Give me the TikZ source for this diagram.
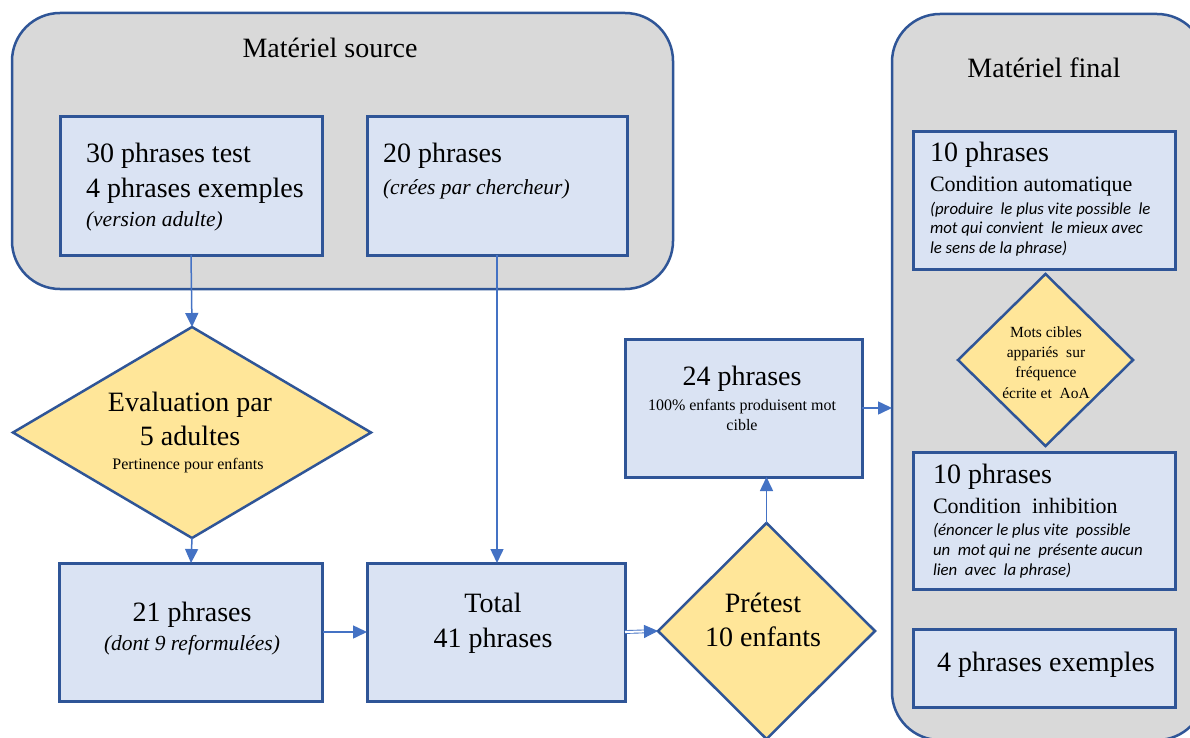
\documentclass[tikz,border=0pt]{standalone}
\usepackage{fontspec}
\setmainfont{Liberation Serif}
\newfontfamily\carl{Carlito}
\usetikzlibrary{shapes.geometric,arrows.meta}
\definecolor{bord}{HTML}{2F5597}
\definecolor{contfill}{HTML}{D9D9D9}
\definecolor{boxfill}{HTML}{DAE3F3}
\definecolor{diafill}{HTML}{FFE699}
\definecolor{arr}{HTML}{4472C4}
\tikzset{
  cont/.style={draw=bord, line width=2.5pt, fill=contfill, rounded corners=48pt, inner sep=0pt, outer sep=0pt},
  boxx/.style={draw=bord, line width=3pt, fill=boxfill, inner sep=0pt, outer sep=0pt},
  dia/.style={diamond, draw=bord, line width=2.5pt, fill=diafill, inner sep=0pt, outer sep=0pt},
  big/.style={font=\fontsize{28}{34}\selectfont, inner sep=0pt, outer sep=0pt},
  mid/.style={font=\fontsize{22}{26}\selectfont, inner sep=0pt, outer sep=0pt},
  itl/.style={font=\itshape\fontsize{21.5}{26}\selectfont, inner sep=0pt, outer sep=0pt},
  sml/.style={font=\fontsize{16}{20}\selectfont, inner sep=0pt, outer sep=0pt},
  tiny/.style={font=\fontsize{15.5}{20}\selectfont, inner sep=0pt, outer sep=0pt},
  its/.style={font=\carl\itshape\fontsize{16.8}{19}\selectfont, inner sep=0pt, outer sep=0pt},
  con/.style={draw=arr, line width=1.5pt, -{Triangle[length=14pt,width=13pt]}},
}
\begin{document}
\begin{tikzpicture}[x=1pt,y=-1pt]
\useasboundingbox (0,0) rectangle (1190,738);
\clip (0,0) rectangle (1190,738);
\fill[white] (0,0) rectangle (1190,738);

% containers
\node[cont, minimum width=661pt, minimum height=276pt] (src) at (342.5,151) {};
\node[cont, minimum width=313pt, minimum height=726pt] (fin) at (1048.5,377) {};
\node[big, anchor=base] (srct) at (330,58) {Matériel source};
\node[big, anchor=base] (fint) at (1044,78) {Matériel final};

% source boxes
\node[boxx, minimum width=262pt, minimum height=138pt] (a) at (191,186) {};
\node[big, anchor=base west] (a1) at (86,163) {30 phrases test};
\node[big, anchor=base west] (a2) at (86,197) {4 phrases exemples};
\node[itl, anchor=base west] (a3) at (86,226) {(version adulte)};

\node[boxx, minimum width=260pt, minimum height=138pt] (b) at (497,186) {};
\node[big, anchor=base west] (b1) at (383,163) {20 phrases};
\node[itl, anchor=base west] (b2) at (383,194) {(crées par chercheur)};

% evaluation diamond
\node[dia, minimum width=358pt, minimum height=211pt] (ev) at (192,432.5) {};
\node[big, anchor=base] (ev1) at (190,411) {Evaluation par};
\node[big, anchor=base] (ev2) at (190,445) {5 adultes};
\node[sml, anchor=base] (ev3) at (188,469) {Pertinence pour enfants};

% 21 phrases
\node[boxx, minimum width=263pt, minimum height=138pt] (r21) at (191,632) {};
\node[big, anchor=base] (r211) at (192,621) {21 phrases};
\node[itl, anchor=base] (r212) at (192,650) {(dont 9 reformulées)};

% total
\node[boxx, minimum width=258pt, minimum height=138pt] (tot) at (496,632) {};
\node[big, anchor=base] (tot1) at (493,612) {Total};
\node[big, anchor=base] (tot2) at (493,647) {41 phrases};

% pretest
\node[dia, minimum width=217pt, minimum height=216pt] (pre) at (766.5,631) {};
\node[big, anchor=base] (pre1) at (763,612) {Prétest};
\node[big, anchor=base] (pre2) at (763,646) {10 enfants};

% 24 phrases
\node[boxx, minimum width=237pt, minimum height=138pt] (p24) at (743.5,408) {};
\node[big, anchor=base] (p241) at (742,385) {24 phrases};
\node[sml, anchor=base] (p242) at (742,410) {100\% enfants produisent mot};
\node[sml, anchor=base] (p243) at (742,430) {cible};

% final boxes
\node[boxx, minimum width=262pt, minimum height=137pt] (f1) at (1044,200.5) {};
\node[big, anchor=base west] (f11) at (930,162) {10 phrases};
\node[mid, anchor=base west] (f12) at (930,192) {Condition automatique};
\node[its, anchor=base west] (f13) at (930,214) {(produire\ \ le plus vite possible\ \ le};
\node[its, anchor=base west] (f14) at (930,233) {mot qui convient\ \ le mieux avec};
\node[its, anchor=base west] (f15) at (930,253) {le sens de la phrase)};

\node[dia, minimum width=175pt, minimum height=172pt] (mc) at (1045.5,360) {};
\node[tiny, anchor=base] (mc1) at (1046,337) {Mots cibles};
\node[tiny, anchor=base] (mc2) at (1046,357) {appariés\ \ sur};
\node[tiny, anchor=base] (mc3) at (1046,377) {fréquence};
\node[tiny, anchor=base] (mc4) at (1046,398) {écrite et\ \ AoA};

\node[boxx, minimum width=262pt, minimum height=137pt] (f2) at (1044,520.5) {};
\node[big, anchor=base west] (f21) at (933,483) {10 phrases};
\node[mid, anchor=base west] (f22) at (933,513) {Condition\ \ inhibition};
\node[its, anchor=base west] (f23) at (933,535) {(énoncer le plus vite\ \ possible};
\node[its, anchor=base west] (f24) at (933,555) {un\ \ mot qui ne\ \ présente aucun};
\node[its, anchor=base west] (f25) at (933,575) {lien\ \ avec\ \ la phrase)};

\node[boxx, minimum width=262pt, minimum height=78pt] (f3) at (1044,668) {};
\node[big, anchor=base] (f31) at (1046,671) {4 phrases exemples};

% connectors
\draw[con] (a.south) -- (ev.north);
\draw[con] (b.south) -- (b.south |- tot.north);
\draw[con] (ev.south) -- (r21.north);
\draw[con] (r21.east) -- (tot.west);
\draw[draw=arr, line width=0.9pt, double=white, double distance=2pt, -{Triangle[length=14pt,width=13pt,fill=arr]}] (tot.east) -- (pre.west);
\draw[con] (pre.north) -- (pre.north |- p24.south);
\draw[con] (p24.east) -- (p24.east -| fin.west);
\end{tikzpicture}
\end{document}
